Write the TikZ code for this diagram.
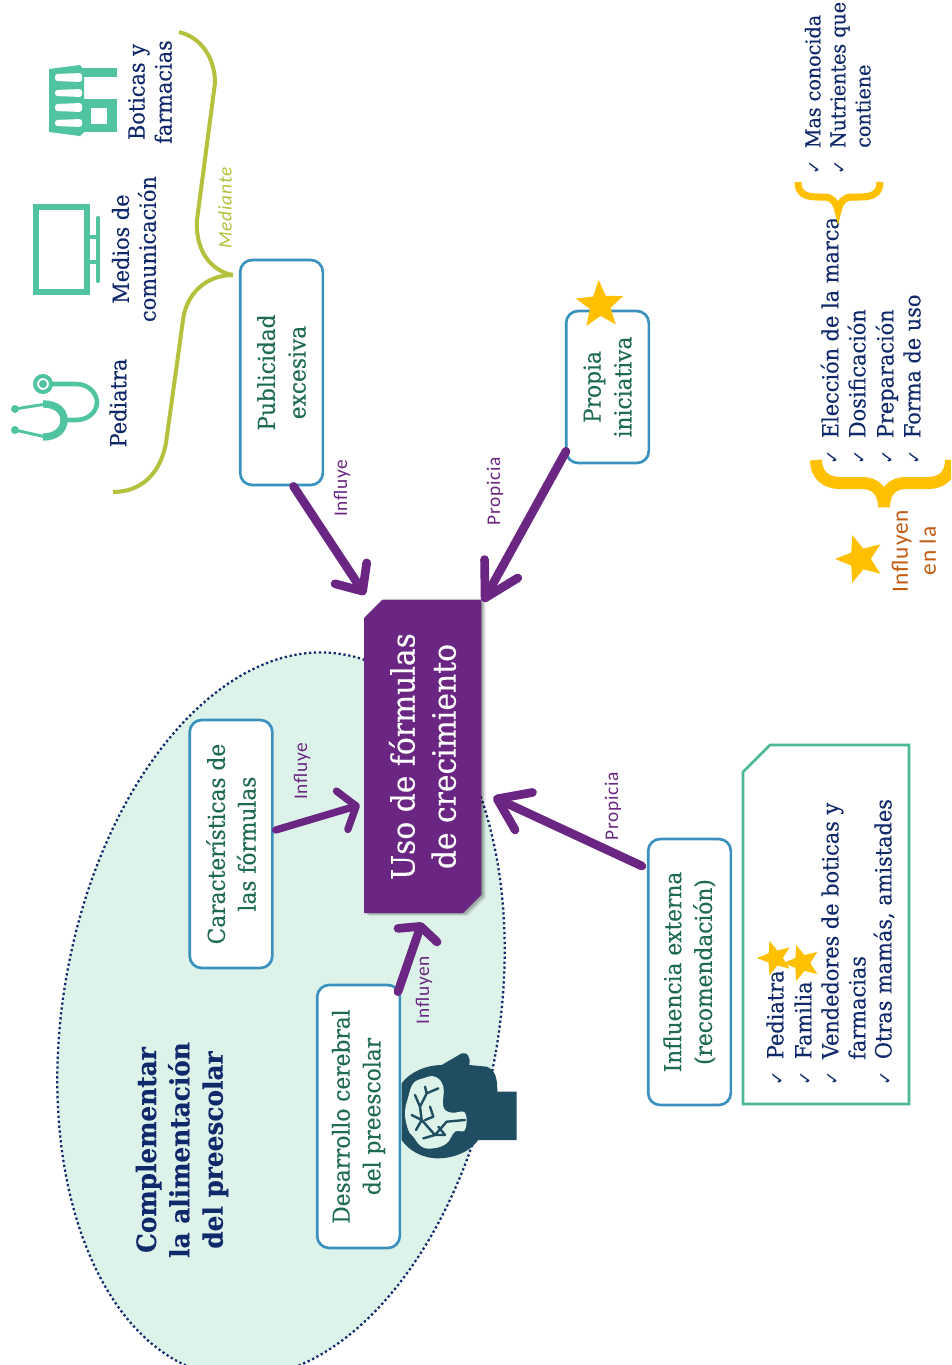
\documentclass[tikz,border=0pt]{standalone}
\usepackage{fontspec}
\setmainfont[FakeStretch=0.93,FakeBold=0.25]{DejaVu Serif}
\newfontfamily\handfont[LetterSpace=4]{Carlito}
\newfontfamily\symfont{DejaVu Sans}
\usetikzlibrary{arrows.meta,shapes.geometric,shapes.misc,shadows,calc}
\definecolor{navyt}{HTML}{10296B}
\definecolor{greent}{HTML}{1F6B52}
\definecolor{boxb}{HTML}{3A91BE}
\definecolor{purp}{HTML}{6A2682}
\definecolor{tealc}{HTML}{50C4A0}
\definecolor{listb}{HTML}{4BB897}
\definecolor{olive}{HTML}{B3C13D}
\definecolor{gold}{HTML}{FFC000}
\definecolor{orng}{HTML}{C55A11}
\definecolor{brain}{HTML}{1F4E63}
\definecolor{ellf}{HTML}{DDF3EA}
\newcommand{\fs}[1]{\fontsize{#1}{1.2\dimexpr #1pt\relax}\selectfont}
\newcommand{\chk}{\makebox[20pt][l]{\symfont\fontsize{13}{14}\selectfont ✓}}
\tikzset{
 x=0.75pt,y=-0.75pt,
 conceptbox/.style={draw=boxb,line width=2pt,rounded corners=9pt,fill=white,rotate=90,align=center,text=greent,inner sep=0pt,font=\fs{17.5},minimum height=62pt},
 arr/.style 2 args={draw=purp,line width=6.5pt,line cap=round,line join=round,-{Straight Barb[length=#1,width=#2,round]}},
 linklabel/.style={rotate=90,text=purp,font=\handfont\fs{14.5},inner sep=0pt},
 iconlabel/.style={rotate=90,text=navyt,align=center,font=\fs{16.8},inner sep=0pt},
 listline/.style={rotate=90,anchor=mid west,text=navyt,font=\fs{16.8},inner sep=0pt},
 goldstar/.style={star,star points=5,star point ratio=2.3,fill=gold,inner sep=0pt},
 icon/.style={draw=tealc,fill=none,line cap=butt},
}
\begin{document}
\begin{tikzpicture}
\clip (0,0) rectangle (951,1365);
\useasboundingbox (0,0) rectangle (951,1365);
\fill[white] (0,0) rectangle (951,1365);

% ellipse
\node[ellipse,draw=navyt,dotted,line width=1.7pt,fill=ellf,minimum width=436*0.75pt,minimum height=732*0.75pt,rotate=-9.8,inner sep=0pt] (ell) at (281,1015) {};

% main
\node[chamfered rectangle,chamfered rectangle corners={north east,south west},chamfered rectangle xsep=6.75pt,chamfered rectangle ysep=6.75pt,
  fill=purp,rotate=90,minimum width=313*0.75pt,minimum height=117*0.75pt,inner sep=0pt,align=center,text=white,font=\fs{24},
  general shadow={fill=black,opacity=.12,shadow xshift=3.5pt,shadow yshift=-2pt},
  general shadow={fill=black,opacity=.2,shadow xshift=2pt,shadow yshift=-1pt},
  general shadow={fill=black,opacity=.25,shadow xshift=.8pt,shadow yshift=.8pt}] (main) at (422.5,756.5) {Uso de fórmulas\\[2pt]de crecimiento};

% boxes
\node[conceptbox,minimum width=225*0.75pt] (pub) at (281.5,372.5) {Publicidad\\[2pt]excesiva};
\node[conceptbox,minimum width=152*0.75pt] (prop) at (607.5,387) {Propia\\[2pt]iniciativa};
\node[conceptbox,minimum width=248*0.75pt] (car) at (231,844) {Características\ de\\[2pt]las fórmulas};
\node[conceptbox,minimum width=263*0.75pt] (des) at (358.5,1116.5) {Desarrollo\ cerebral\\[2pt]del preescolar};
\node[conceptbox,minimum width=266*0.75pt] (inf) at (689.5,972) {Influencia\ externa\\[2pt](recomendación)};

% arrows
\draw[arr={16pt}{28.5pt}] ([shift={(12,0)}]pub.west) -- ([shift={(-57.5,-5)}]main.east);
\draw[arr={25pt}{28.5pt}] ([shift={(-41.5,-13)}]prop.west) -- ([shift={(60.5,2)}]main.east);
\draw[arr={11pt}{30pt},line width=5.5pt] ([shift={(2,-14)}]car.south) -- ([shift={(-4,48.5)}]main.north);
\draw[arr={7pt}{31pt}] ([shift={(39.5,8)}]des.east) -- ([shift={(-0.5,9)}]main.west);
\draw[arr={22pt}{31pt}] ([shift={(-5,-106)}]inf.north) -- ([shift={(12,40.5)}]main.south);

% link labels
\node[linklabel] (l1) at (342,488) {Influye};
\node[linklabel] (l2) at (495,491) {Propicia};
\node[linklabel] (l3) at (302,771) {Influye};
\node[linklabel] (l4) at (424,990) {Influyen};
\node[linklabel] (l5) at (613,806) {Propicia};
\node[rotate=90,text=olive,font=\handfont\itshape\fs{14.5},inner sep=0pt] (l6) at (225,208) {Mediante};

% title
\node[rotate=90,text=navyt,align=center,font=\bfseries\fs{20},inner sep=0pt] (title) at (182,1150) {Complementar\\[1pt]la alimentación\\[1pt]del preescolar};

% list box
\draw[listb,line width=2pt] (743,772) -- (770,745) -- (909,745) -- (909,1104) -- (743,1104) -- cycle;
\node[listline] (a1) at (780,1086) {\chk Pediatra};
\node[listline] (a2) at (808,1086) {\chk Familia};
\node[listline] (a3) at (835,1086) {\chk Vendedores de boticas y};
\node[listline] (a4) at (862,1060) {farmacias};
\node[listline] (a5) at (888,1086) {\chk Otras mamás, amistades};
\node[goldstar,minimum size=36*0.75pt,rotate=90] (s1) at (775,958) {};
\node[goldstar,minimum size=38*0.75pt,rotate=90] (s2) at (802,963) {};

% right lists
\node[listline,font=\fs{15.4}] (b1) at (817,175) {\chk Mas conocida};
\node[listline,font=\fs{15.4}] (b2) at (842,175) {\chk Nutrientes que};
\node[listline,font=\fs{15.4}] (b3) at (867,148) {contiene};
\node[listline] (c1) at (835,465) {\chk Elección de la marca};
\node[listline] (c2) at (862,465) {\chk Dosificación};
\node[listline] (c3) at (890,465) {\chk Preparación};
\node[listline] (c4) at (917,465) {\chk Forma de uso};
\node[rotate=90,text=orng,align=center,font=\handfont\fs{17.5},inner sep=0pt] (inl) at (914,551) {Influyen\\en la};
\node[goldstar,minimum size=50*0.75pt,rotate=90] (s3) at (860,559) {};
\node[goldstar,minimum size=50*0.75pt,rotate=75] (s4) at (600,305) {};

% gold braces
\draw[gold,line width=5.25pt,line cap=butt] (798,182) .. controls (798,194) and (806,197) .. (818,197) -- (824,197) .. controls (832,197) and (836,202) .. (838,211) .. controls (840,202) and (844,197) .. (852,197) -- (860,197) .. controls (872,197) and (880,194) .. (880,182);
\draw[gold,line width=9pt,line cap=butt] (816,460) .. controls (816,475) and (826,483) .. (840,483) -- (862,483) .. controls (876,483) and (884,492) .. (884,507) .. controls (884,492) and (892,483) .. (906,483) -- (928,483) .. controls (942,483) and (951,475) .. (951,460);

% olive brace
\draw[olive,line width=3pt,line join=bevel] (179,32) .. controls (203,38) and (215,60) .. (215,83) -- (197,220) .. controls (195,255) and (215,272) .. (233,275) .. controls (205,275) and (186,295) .. (183,320) -- (166,443) .. controls (160,475) and (140,492) .. (113,492);

% icon labels
\node[iconlabel] (i1) at (118,403) {Pediatra};
\node[iconlabel] (i2) at (134,249) {Medios de\\comunicación};
\node[iconlabel] (i3) at (150,92) {Boticas y\\farmacias};

% stethoscope
\draw[icon,line width=3pt] (43,384) circle[radius=8];
\fill[tealc] (43,384) circle[radius=4];
\draw[icon,line width=3.4pt] (51,384) -- (76,384) .. controls (90,384) and (97,395) .. (97,402) .. controls (97,412) and (88,420) .. (76,420) -- (64,420);
\draw[icon,line width=5.5pt] (43,404) .. controls (58,404) and (64,412) .. (64,420) .. controls (64,430) and (56,437) .. (43,437);
\draw[icon,line width=2.2pt] (15,409) -- (46,404) (15,430) -- (46,437);
\fill[tealc] (15,409) circle[radius=4] (15,430) circle[radius=4];

% TV
\draw[icon,line width=4.5pt] (36,207) rectangle (87,292);
\draw[icon,line width=3.2pt] (90,237) -- (98,237) (90,262) -- (98,262);
\draw[icon,line width=3.2pt,line cap=round] (98,218) -- (98,281);

% shop
\fill[tealc] (49,69) -- (80,65) -- (84,70) -- (84,132) -- (80,136) -- (49,132) -- cycle;
\fill[tealc] (82,68) rectangle (117,77);
\fill[tealc] (82,99) rectangle (117,132);
\fill[white] (91,108) rectangle (107,124);
\foreach \yy/\yb in {73/82,89/97,103/112,119/127}{
 \fill[white,rounded corners=2pt] (55,\yy+1) -- (82,\yy) -- (82,\yb) -- (55,\yb-1) -- cycle;
}

% brain
\begin{scope}[shift={(380,950)},x=0.25pt,y=-0.25pt]
\fill[brain] (65,400) .. controls (90,365) and (140,345) .. (185,345) -- (245,310) .. controls (262,305) and (272,320) .. (268,345) -- (320,350) .. controls (345,360) and (352,380) .. (352,425) -- (410,425) -- (410,570) -- (295,570) .. controls (265,610) and (215,625) .. (175,625) .. controls (125,625) and (85,600) .. (65,570) -- cycle;
\fill[ellf] plot[smooth cycle,tension=.7] coordinates {(130,385) (165,380) (190,410) (190,470) (215,488) (255,488) (255,540) (225,545) (200,580) (160,595) (125,590) (100,560) (85,540) (75,490) (85,440) (100,400)};
\draw[brain,line width=1.8pt,line cap=round,line join=round]
 (175,415) -- (140,430) -- (120,470) -- (125,510) -- (165,555) -- (195,555)
 (105,435) -- (120,470) (135,410) -- (140,430)
 (95,495) -- (125,510) (108,540) -- (125,510)
 (130,565) -- (165,555) (150,470) -- (160,500) -- (135,510)
 (255,510) -- (200,515) -- (165,555) (175,530) -- (195,555);
\end{scope}
\end{tikzpicture}
\end{document}
